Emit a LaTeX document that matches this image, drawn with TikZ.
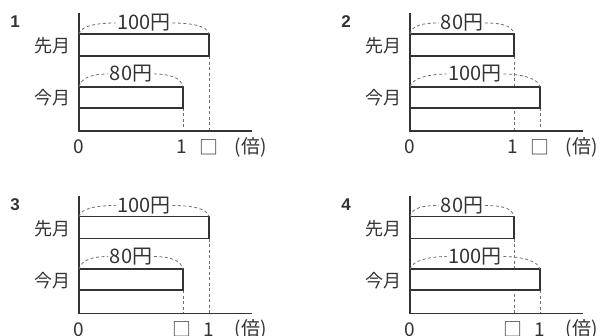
\documentclass[tikz,border=0pt]{standalone}
\usepackage{fontspec}
\setmainfont{Noto Sans CJK JP}
\newfontfamily\numfont{Liberation Sans}
\definecolor{ink}{HTML}{333333}
\definecolor{guidegray}{HTML}{707070}
\tikzset{
 axisline/.style={draw=ink, line width=1.8pt},
 barbox/.style={draw=ink, line width=1.8pt, fill=white, inner sep=0pt, outer sep=0pt},
 guide/.style={draw=guidegray, line width=0.8pt, dash pattern=on 3pt off 2.5pt},
 amt/.style={font=\fontsize{20}{20}\selectfont, text=ink, inner sep=1.5pt},
 cat/.style={font=\fontsize{18}{18}\selectfont, text=ink, inner sep=0pt},
 tick/.style={font=\fontsize{19}{19}\selectfont, text=ink, inner sep=0pt},
 qnum/.style={font=\numfont\bfseries\fontsize{17}{17}\selectfont, text=ink, inner sep=0pt},
}
\newcommand\panel[9]{%
\begin{scope}[shift={(#2,#3)}]
 \coordinate (p#1o) at (0,0);
 \coordinate (p#1t) at (0,-118);
 \coordinate (p#1r) at (173,0);
 \coordinate (p#1te) at (#4,-75);
 \coordinate (p#1be) at (#6,-23.3);
 \node[qnum] (p#1n) at (-64,-109) {#1};
 \node[cat] (p#1c1) at (-27,-85) {先月};
 \node[cat] (p#1c2) at (-27,-33) {今月};
 \draw[guide] (p#1te) -- (p#1te |- p#1o);
 \draw[guide] (p#1be) -- (p#1be |- p#1o);
 \node[barbox, minimum width=#4pt, minimum height=22pt, anchor=south west] (p#1tb) at (0,-75) {};
 \node[barbox, minimum width=#6pt, minimum height=21pt, anchor=south west] (p#1bb) at (0,-23.3) {};
 \draw[axisline] (p#1t) -- (p#1o) -- (p#1r);
 \node[amt] (p#1tl) at (#4/2,-108) {#5};
 \node[amt] (p#1bl) at (#6/2,-57) {#7};
 \draw[guide] (p#1tb.north west) .. controls +(2,-9) and +(-16,0) .. (p#1tl.west);
 \draw[guide] (p#1tl.east) .. controls +(16,0) and +(-2,-9) .. (p#1tb.north east);
 \draw[guide] (p#1bb.north west) .. controls +(2,-9) and +(-16,0) .. (p#1bl.west);
 \draw[guide] (p#1bl.east) .. controls +(16,0) and +(-2,-9) .. (p#1bb.north east);
 \node[tick] (p#1z) at (0,16) {0};
 \node[tick] (p#1a) at (103,16) {#8};
 \node[tick] (p#1b) at (130,16) {#9};
 \node[tick] (p#1u) at (171.5,16) {(倍)};
\end{scope}}
\begin{document}
\begin{tikzpicture}[x=1pt,y=-1pt]
\useasboundingbox (0,0) rectangle (601,335);
\clip (0,0) rectangle (601,335);
\panel{1}{79}{131}{130}{100円}{104}{80円}{1}{□}
\panel{2}{410}{131}{104}{80円}{130}{100円}{1}{□}
\panel{3}{79}{313.5}{130}{100円}{104}{80円}{□}{1}
\panel{4}{410}{313.5}{104}{80円}{130}{100円}{□}{1}
\end{tikzpicture}
\end{document}
